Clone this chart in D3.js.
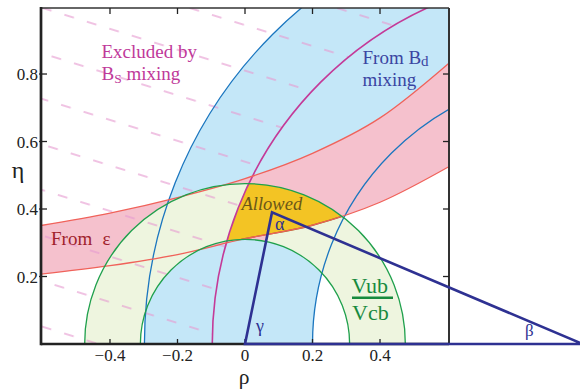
<!DOCTYPE html>
<html><head><meta charset="utf-8">
<script src="https://cdn.jsdelivr.net/npm/d3@7"></script>
<style>html,body{margin:0;padding:0;background:#fff;} svg{display:block;}</style>
</head><body>
<svg id="chart" width="580" height="389"></svg>
<script>
// ---------- data ----------
const rhoTicks = [-0.4, -0.2, 0, 0.2, 0.4];
const etaTicks = [0.2, 0.4, 0.6, 0.8];
const rhoTickLabels = ["\u22120.4", "\u22120.2", "0", "0.2", "0.4"];
const etaTickLabels = ["0.2", "0.4", "0.6", "0.8"];
// epsilon band (K mixing) boundaries
const epsRho   = [-0.605, -0.4, -0.2, 0, 0.2, 0.4, 0.605];
const epsUpper = [0.351, 0.388, 0.434, 0.49, 0.565, 0.67, 0.833];
const epsLower = [0.207, 0.232, 0.265, 0.312, 0.352, 0.42, 0.526];
// |Vub/Vcb| annulus, centred at (0,0)
const vubRadii = [0.31, 0.475];
// Bd mixing band, centred at (1,0)
const bdRadii = [0.8, 1.298];
// Bs mixing limit, centred at (1,0)
const bsRadius = 1.097;
// unitarity triangle vertices (rho, eta)
const triRho = [0, 0.08, 1];
const triEta = [0, 0.39, 0];

// ---------- layout ----------
const svg = d3.select("#chart");
const L = 41, R = 449, T = 8, B = 344;
const x = d3.scaleLinear().domain([-0.6044, 0.6044]).range([L, R]);
const y = d3.scaleLinear().domain([0, 0.9956]).range([B, T]);
const serif = "'Liberation Serif','Times New Roman',serif";

function circ(p, cr, ce, r) {
  const cx = x(cr), cy = y(ce), rp = x(cr + r) - x(cr);
  p.moveTo(cx + rp, cy);
  p.arc(cx, cy, rp, 0, 2 * Math.PI);
  p.closePath();
  return p;
}
function ring(cr, ce, r1, r2) { const p = d3.path(); circ(p, cr, ce, r1); circ(p, cr, ce, r2); return p.toString(); }
function circle(cr, ce, r) { return circ(d3.path(), cr, ce, r).toString(); }

const epsPts = epsRho.map((r, i) => ({ r, lo: epsLower[i], hi: epsUpper[i] }));
const epsArea = d3.area().x(d => x(d.r)).y0(d => y(d.lo)).y1(d => y(d.hi)).curve(d3.curveMonotoneX);
const belowLo = d3.area().x(d => x(d.r)).y0(y(0)).y1(d => y(d.lo)).curve(d3.curveMonotoneX);
const lineLo = d3.line().x(d => x(d.r)).y(d => y(d.lo)).curve(d3.curveMonotoneX);
const lineHi = d3.line().x(d => x(d.r)).y(d => y(d.hi)).curve(d3.curveMonotoneX);

const defs = svg.append("defs");
defs.append("clipPath").attr("id", "plot").append("rect").attr("x", L).attr("y", T).attr("width", R - L).attr("height", B - T);
defs.append("clipPath").attr("id", "cVub").append("path").attr("d", ring(0, 0, vubRadii[0], vubRadii[1])).attr("clip-rule", "evenodd");
defs.append("clipPath").attr("id", "cBd").append("path").attr("d", ring(1, 0, bdRadii[0], bdRadii[1])).attr("clip-rule", "evenodd");
defs.append("clipPath").attr("id", "cBs").append("path").attr("d", circle(1, 0, bsRadius));
// region left of the triangle's gamma side
const slope = triRho[1] / triEta[1];
defs.append("clipPath").attr("id", "cLeft").append("path")
  .attr("d", d3.line()([[x(-0.7), y(0)], [x(0), y(0)], [x(slope * 1.0), y(1.0)], [x(-0.7), y(1.0)]]) + "Z");
const pat = defs.append("pattern").attr("id", "hatch").attr("patternUnits", "userSpaceOnUse")
  .attr("width", 23.5).attr("height", 43.5)
  .attr("patternTransform", `translate(${L},7.5) rotate(17.2) translate(0,-21.75)`);
pat.append("line").attr("x1", 1).attr("x2", 11).attr("y1", 21.75).attr("y2", 21.75)
  .attr("stroke", "#e69bd0").attr("stroke-width", 1.2);

const g = svg.append("g").attr("clip-path", "url(#plot)");

// fills
g.append("path").attr("d", ring(1, 0, bdRadii[0], bdRadii[1])).attr("fill", "#c4e7f8").attr("fill-rule", "evenodd");
g.append("path").attr("d", epsArea(epsPts)).attr("fill", "#f5c1cd");
g.append("path").attr("d", ring(0, 0, vubRadii[0], vubRadii[1])).attr("fill", "#eef5df").attr("fill-rule", "evenodd");
// small pink sliver just under the allowed region (as in the original drawing)
g.append("g").attr("clip-path", "url(#cVub)")
  .append("g").attr("clip-path", "url(#cLeft)")
  .append("g").attr("clip-path", "url(#cBs)")
  .append("path").attr("d", belowLo(epsPts)).attr("fill", "#f5c1cd");
// allowed region = intersection
g.append("g").attr("clip-path", "url(#cVub)")
  .append("g").attr("clip-path", "url(#cBd)")
  .append("g").attr("clip-path", "url(#cBs)")
  .append("path").attr("d", epsArea(epsPts)).attr("fill", "#f3c424").attr("stroke", "#9a6a20").attr("stroke-width", 1.4);

// hatch of the excluded (Bs) region
const hp = d3.path(); hp.rect(L, T, R - L, B - T); circ(hp, 1, 0, bsRadius);
g.append("path").attr("d", hp.toString()).attr("fill", "url(#hatch)").attr("fill-rule", "evenodd");

// boundary lines
bdRadii.forEach(r => g.append("path").attr("d", circle(1, 0, r)).attr("fill", "none").attr("stroke", "#1b76bf").attr("stroke-width", 1.3));
g.append("path").attr("d", circle(1, 0, bsRadius)).attr("fill", "none").attr("stroke", "#c43a98").attr("stroke-width", 1.6);
g.append("path").attr("d", lineHi(epsPts)).attr("fill", "none").attr("stroke", "#f0625a").attr("stroke-width", 1.3);
g.append("path").attr("d", lineLo(epsPts)).attr("fill", "none").attr("stroke", "#f0625a").attr("stroke-width", 1.3);
vubRadii.forEach(r => g.append("path").attr("d", circle(0, 0, r)).attr("fill", "none").attr("stroke", "#1fa04c").attr("stroke-width", 1.3));

// frame
svg.append("line").attr("x1", L).attr("x2", R).attr("y1", T).attr("y2", T).attr("stroke", "#333").attr("stroke-width", 1.6);
svg.append("line").attr("x1", R).attr("x2", R).attr("y1", T).attr("y2", B).attr("stroke", "#333").attr("stroke-width", 2);
svg.append("line").attr("x1", L).attr("x2", L).attr("y1", T - 1).attr("y2", B + 1.3).attr("stroke", "#222").attr("stroke-width", 2.7);
svg.append("line").attr("x1", L).attr("x2", R).attr("y1", B).attr("y2", B).attr("stroke", "#222").attr("stroke-width", 2.7);

// ticks
const tk = svg.append("g").attr("stroke", "#222").attr("stroke-width", 1.3);
rhoTicks.forEach(t => {
  tk.append("line").attr("x1", x(t)).attr("x2", x(t)).attr("y1", B).attr("y2", B - 5);
  tk.append("line").attr("x1", x(t)).attr("x2", x(t)).attr("y1", T).attr("y2", T + 6);
});
etaTicks.forEach(t => {
  tk.append("line").attr("x1", L - 2).attr("x2", L + 6).attr("y1", y(t)).attr("y2", y(t));
  tk.append("line").attr("x1", R).attr("x2", R - 6).attr("y1", y(t)).attr("y2", y(t));
});
rhoTicks.forEach((t, i) => svg.append("text").attr("x", x(t)).attr("y", 361).attr("text-anchor", "middle")
  .attr("font-family", serif).attr("font-size", 17).attr("fill", "#222").text(rhoTickLabels[i]));
etaTicks.forEach((t, i) => svg.append("text").attr("x", 38).attr("y", y(t) + 6).attr("text-anchor", "end")
  .attr("font-family", serif).attr("font-size", 17).attr("fill", "#222").text(etaTickLabels[i]));
svg.append("text").attr("x", 18).attr("y", 178).attr("text-anchor", "middle").attr("font-family", serif).attr("font-size", 24).attr("fill", "#222").text("\u03b7");
svg.append("text").attr("x", 244).attr("y", 384).attr("text-anchor", "middle").attr("font-family", serif).attr("font-size", 21.5).attr("fill", "#222").text("\u03c1");

// unitarity triangle
const tri = triRho.map((r, i) => [x(r), y(triEta[i])]);
svg.append("path").attr("d", d3.line()(tri) + "Z").attr("fill", "none").attr("stroke", "#2e3192")
  .attr("stroke-width", 2.6).attr("stroke-linejoin", "miter");

// labels
function txt(px, py, s, size, col, extra) {
  const t = svg.append("text").attr("x", px).attr("y", py).attr("font-family", serif).attr("font-size", size).attr("fill", col);
  if (extra) extra(t);
  if (s !== null) t.text(s);
  return t;
}
txt(101.5, 58, "Excluded by", 19, "#c0399a");
const bs = txt(101.5, 80, null, 19, "#c0399a");
bs.append("tspan").text("B");
bs.append("tspan").attr("font-size", 13.5).attr("dy", 3).text("S");
bs.append("tspan").attr("dy", -3).text(" mixing");

const bd = txt(362.5, 64, null, 19, "#3a45a2");
bd.append("tspan").text("From B");
bd.append("tspan").attr("font-size", 15).attr("dy", 1.5).text("d");
txt(362.5, 86, "mixing", 19, "#3a45a2");

const fe = txt(51, 245, null, 19, "#a01f2c");
fe.append("tspan").text("From");
fe.append("tspan").attr("x", 102.5).text("\u03b5");

txt(241.5, 210, "Allowed", 18.5, "#6b5718", t => t.attr("font-style", "italic"));
txt(275, 230, "\u03b1", 18, "#2e3192");
txt(256, 332, "\u03b3", 18, "#2e3192");
txt(525, 336, "\u03b2", 17, "#2e3192");

txt(351.5, 292.5, "Vub", 22, "#178a3e");
svg.append("line").attr("x1", 352).attr("x2", 393).attr("y1", 297.8).attr("y2", 297.8).attr("stroke", "#178a3e").attr("stroke-width", 2.4);
txt(352, 320, "Vcb", 22, "#178a3e");
</script>
</body></html>
